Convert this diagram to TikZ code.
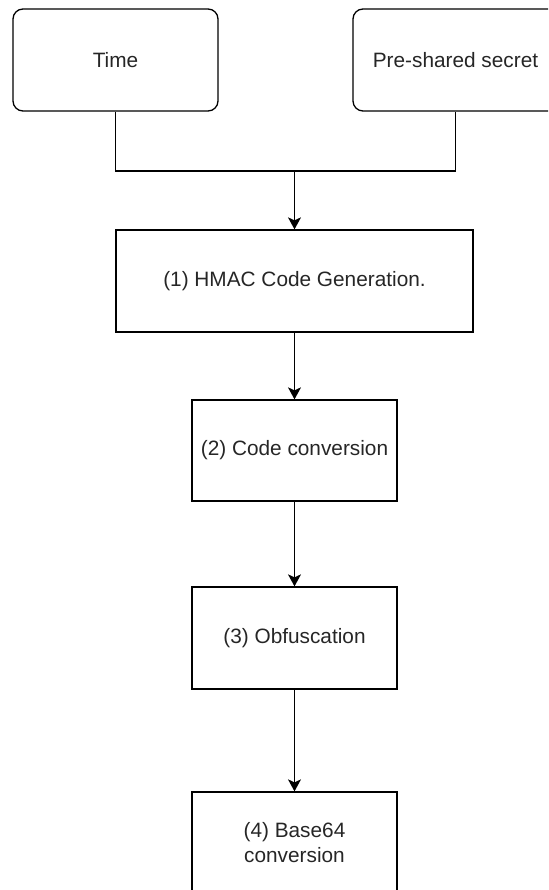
\documentclass[tikz,border=0pt]{standalone}
\usepackage{fontspec}
\setmainfont{Liberation Sans}
\usetikzlibrary{arrows.meta}

\tikzset{
  inbox/.style={draw, rounded corners=10pt, minimum width=205pt, minimum height=102pt, line width=1.3pt},
  stagebox/.style={draw, minimum width=205pt, minimum height=102pt, line width=1.3pt, align=center},
  flow/.style={line width=1.3pt, -{Stealth[length=12pt,width=13pt,inset=3pt]}}
}

\begin{document}
\begin{tikzpicture}[x=1pt,y=-1pt,font=\fontsize{20.8}{25}\selectfont,text=black!85]
\useasboundingbox (0,0) rectangle (548,890);
\clip (0,0) rectangle (548,890);
% inputs
\node[inbox] (time) at (115.5,60) {Time};
\node[inbox] (secret) at (455.5,60) {Pre-shared secret};
% stages
\node[stagebox, minimum width=357pt] (hmac) at (294.5,281) {(1) HMAC Code Generation.};
\node[stagebox, minimum height=101pt] (conv) at (294.5,450.5) {(2) Code conversion};
\node[stagebox] (obf) at (294.5,638) {(3) Obfuscation};
\node[stagebox] (b64) at (294.5,843) {(4) Base64\\conversion};
% connectors
\coordinate (join) at (294.5,171);
\draw[line width=1.3pt] (time.south) |- (join) -| (secret.south);
\draw[flow] (join) -- (hmac.north);
\draw[flow] (hmac) -- (conv);
\draw[flow] (conv) -- (obf);
\draw[flow] (obf) -- (b64);
\end{tikzpicture}
\end{document}
